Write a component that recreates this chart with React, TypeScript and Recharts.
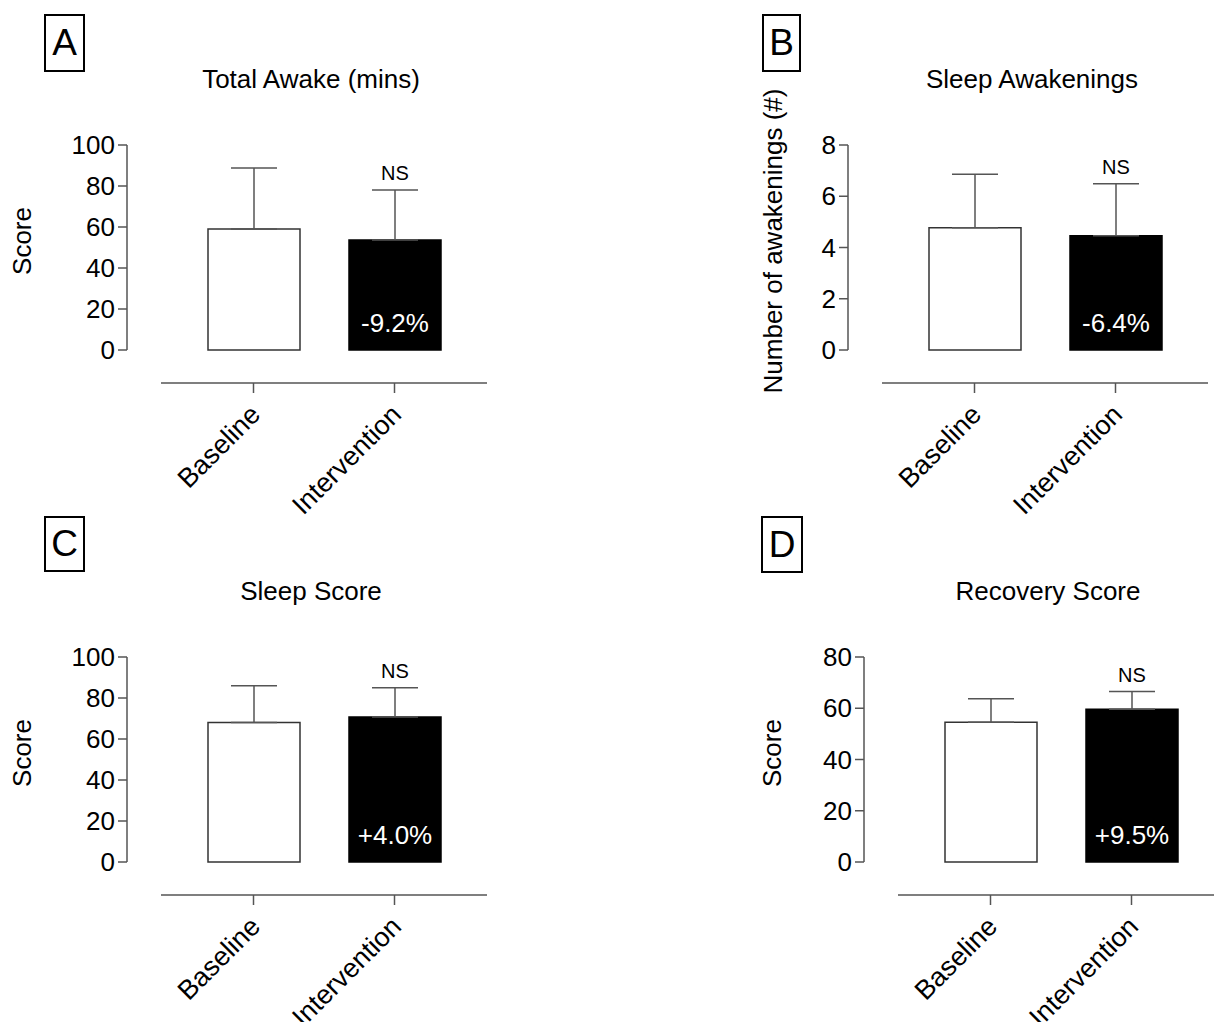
import { BarChart, Bar, XAxis, YAxis, Cell, ErrorBar, LabelList } from "recharts";

const FONT = '"Liberation Sans", Arial, Helvetica, sans-serif';

// categories shared by all four panels
const categories = ["Baseline", "Intervention"];

// A: total awake (mins)
const awakeMeans = [59.0, 53.7];
const awakeSds = [29.8, 24.3];
// B: number of awakenings
const awakeningsMeans = [4.77, 4.46];
const awakeningsSds = [2.09, 2.03];
// C: sleep score
const sleepMeans = [68.1, 70.7];
const sleepSds = [17.9, 14.3];
// D: recovery score
const recoveryMeans = [54.5, 59.6];
const recoverySds = [9.2, 6.9];

const percentChanges = ["-9.2%", "-6.4%", "+4.0%", "+9.5%"];
const significance = ["NS", "NS", "NS", "NS"];

const ticks100 = [0, 20, 40, 60, 80, 100];
const ticks8 = [0, 2, 4, 6, 8];
const ticks80 = [0, 20, 40, 60, 80];

const panels = [
  { letter: "A", title: "Total Awake (mins)", yLabel: "Score", means: awakeMeans, sds: awakeSds, yMax: 100, yTicks: ticks100,
    left: 0, top: 0, labelX: 22, box: { x: 44, y: 14, w: 41, h: 58 } },
  { letter: "B", title: "Sleep Awakenings", yLabel: "Number of awakenings (#)", means: awakeningsMeans, sds: awakeningsSds, yMax: 8, yTicks: ticks8,
    left: 721, top: 0, labelX: 52, box: { x: 41, y: 14, w: 39, h: 58 } },
  { letter: "C", title: "Sleep Score", yLabel: "Score", means: sleepMeans, sds: sleepSds, yMax: 100, yTicks: ticks100,
    left: 0, top: 512, labelX: 22, box: { x: 44, y: 4, w: 41, h: 56 } },
  { letter: "D", title: "Recovery Score", yLabel: "Score", means: recoveryMeans, sds: recoverySds, yMax: 80, yTicks: ticks80,
    left: 737, top: 512, labelX: 35, box: { x: 24, y: 4, w: 42, h: 57 } },
];

const AXIS = "#555";

const XTick = ({ x, y, payload }: any) => (
  <g transform={`translate(${x},${y})`}>
    <text x={0} y={0} dx={-9} dy={21} textAnchor="end" transform="rotate(-45)" fontSize={27} fill="#000" fontFamily={FONT}>
      {payload.value}
    </text>
  </g>
);

const Panel = ({ p, idx }: { p: any; idx: number }) => {
  const rows = categories.map((name, i) => ({ name, mean: p.means[i], err: [0, p.sds[i]], sd: p.sds[i] }));

  const renderLabel = (props: any) => {
    const { x, y, width, height, value, index } = props;
    if (index !== 1) return null;
    const perUnit = height / value;
    const errTop = y - rows[index].sd * perUnit;
    const cx = x + width / 2;
    return (
      <g>
        <text x={cx} y={errTop - 10} textAnchor="middle" fontSize={20} fill="#000" fontFamily={FONT}>
          {significance[idx]}
        </text>
        <text x={cx} y={y + height - 18} textAnchor="middle" fontSize={26} fill="#fff" fontFamily={FONT}>
          {percentChanges[idx]}
        </text>
      </g>
    );
  };

  return (
    <div style={{ position: "absolute", left: p.left, top: p.top, width: 600, height: 550 }}>
      <div
        style={{
          position: "absolute", left: p.box.x, top: p.box.y, width: p.box.w - 4, height: p.box.h - 4,
          border: "2px solid #000", fontSize: 37, lineHeight: `${p.box.h - 4}px`, textAlign: "center",
        }}
      >
        {p.letter}
      </div>
      <div style={{ position: "absolute", left: 111, width: 400, top: 66, fontSize: 26, lineHeight: "26px", textAlign: "center" }}>
        {p.title}
      </div>
      <div style={{ position: "absolute", left: 0, top: 0 }}>
        <BarChart width={600} height={550} data={rows} margin={{ top: 145, right: 113, bottom: 0, left: 0 }}>
          <XAxis xAxisId="gap" dataKey="name" height={33} tick={false} axisLine={false} tickLine={false} padding={{ left: 22, right: 22 }} />
          <XAxis
            xAxisId="main" dataKey="name" height={167} padding={{ left: 22, right: 22 }} interval={0}
            axisLine={{ stroke: AXIS, strokeWidth: 1.5 }} tickLine={{ stroke: AXIS, strokeWidth: 1.5 }}
            tickSize={10} tickMargin={2} tick={<XTick />}
          />
          <YAxis yAxisId="gap" width={34} domain={[0, p.yMax]} tick={false} axisLine={false} tickLine={false} />
          <YAxis
            yAxisId="main" width={127} domain={[0, p.yMax]} ticks={p.yTicks} interval={0}
            tickSize={9} tickMargin={3} tick={{ fontSize: 26, fill: "#000", fontFamily: FONT }}
            axisLine={{ stroke: AXIS, strokeWidth: 1.5 }} tickLine={{ stroke: AXIS, strokeWidth: 1.5 }}
            label={{
              content: ({ viewBox }: any) => {
                const cy = viewBox.y + 96;
                return (
                  <text x={p.labelX} y={cy} transform={`rotate(-90, ${p.labelX}, ${cy})`} textAnchor="middle"
                    dominantBaseline="central" fontSize={26} fill="#000" fontFamily={FONT}>
                    {p.yLabel}
                  </text>
                );
              },
            }}
          />
          {/* error bars first, so the filled bars cover their lower caps */}
          <Bar xAxisId="gap" yAxisId="main" dataKey="mean" barSize={92} fill="none" isAnimationActive={false}>
            <ErrorBar dataKey="err" width={23} stroke={AXIS} strokeWidth={1.5} direction="y" isAnimationActive={false} />
          </Bar>
          <Bar xAxisId="main" yAxisId="main" dataKey="mean" barSize={92} isAnimationActive={false}>
            {rows.map((r, i) => (
              <Cell key={r.name} fill={i === 0 ? "#fff" : "#000"} stroke={i === 0 ? "#333" : "#000"} strokeWidth={1.5} />
            ))}
            <LabelList dataKey="mean" content={renderLabel} />
          </Bar>
        </BarChart>
      </div>
    </div>
  );
};

export default function App() {
  return (
    <div style={{ position: "absolute", left: 0, top: 0, width: 1214, height: 1022, overflow: "hidden", background: "#fff", fontFamily: FONT, color: "#000" }}>
      {panels.map((p, i) => (
        <Panel key={p.letter} p={p} idx={i} />
      ))}
    </div>
  );
}
